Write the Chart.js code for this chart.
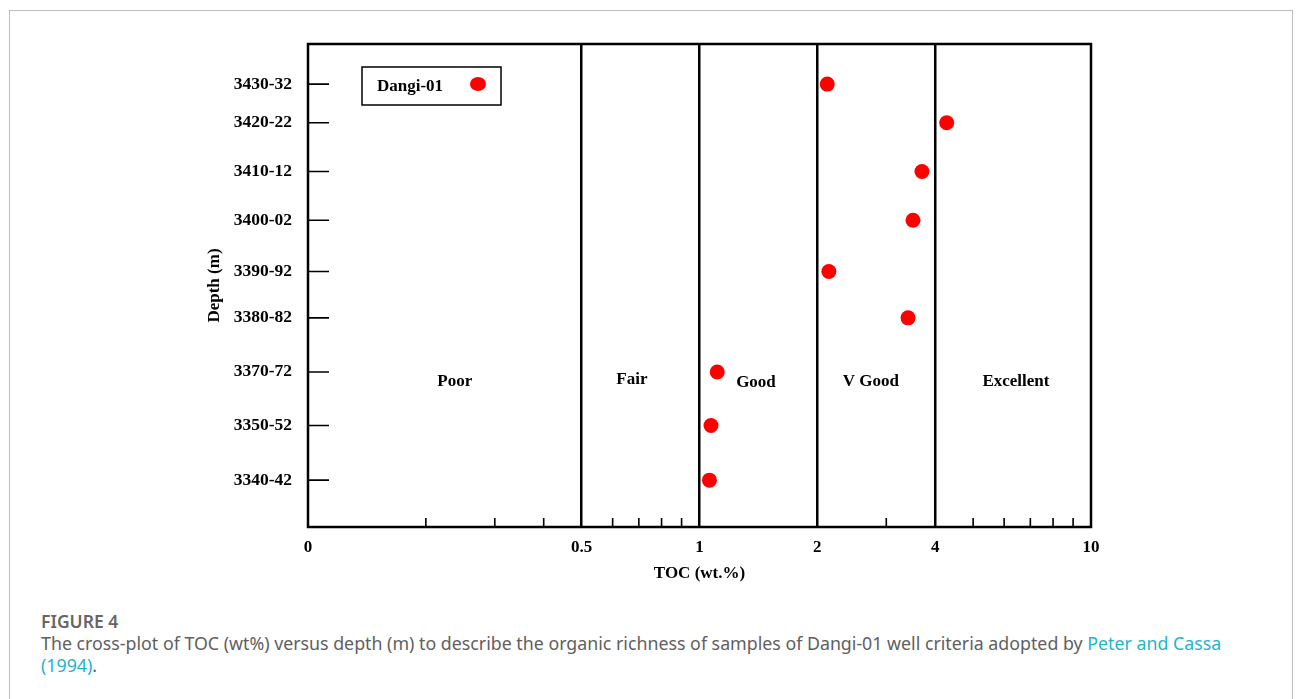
<!DOCTYPE html>
<html>
<head>
<meta charset="utf-8">
<script src="https://cdn.jsdelivr.net/npm/chart.js@4"></script>
<style>
  html, body { margin: 0; padding: 0; background: #fff; }
  body { width: 1296px; height: 699px; position: relative; overflow: hidden; }
  .card { position: absolute; left: 9px; top: 10px; width: 1284px; height: 720px; border: 1px solid #bdbdbd; box-sizing: border-box; }
  #wrap { position: absolute; left: 0; top: 0; width: 1296px; height: 600px; }
  .fig { position: absolute; left: 41px; top: 609px; font-family: "Noto Sans", sans-serif; font-size: 17.5px; font-weight: 600; color: #666; }
  .cap { position: absolute; left: 41px; top: 632px; width: 1215px; font-family: "Noto Sans", sans-serif; font-size: 17.8px; line-height: 22px; color: #606060; }
  .cap a { color: #1fb5c9; text-decoration: none; }
</style>
</head>
<body>
<div class="card"></div>
<div id="wrap"><canvas id="myChart" width="1296" height="600"></canvas></div>
<div class="fig">FIGURE 4</div>
<div class="cap">The cross-plot of TOC (wt%) versus depth (m) to describe the organic richness of samples of Dangi-01 well criteria adopted by <a>Peter and Cassa (1994)</a>.</div>
<script>
// depth intervals, top to bottom, and where each row sits on the (uneven) vertical axis
const depthLabels = ['3430-32', '3420-22', '3410-12', '3400-02', '3390-92', '3380-82', '3370-72', '3350-52', '3340-42'];
const rowPos = [91.7, 83.7, 73.6, 63.5, 52.9, 43.3, 32.1, 21.0, 9.7];
const tocValues = [2.12, 4.28, 3.70, 3.51, 2.14, 3.41, 1.11, 1.07, 1.06];

const xTickVals = [0.1, 0.5, 1, 2, 4, 10];
const xTickLabels = ['0', '0.5', '1', '2', '4', '10'];
const minorTicks = [0.2, 0.3, 0.4, 0.6, 0.7, 0.8, 0.9, 3, 5, 6, 7, 8, 9];
const boundaries = [0.5, 1, 2, 4];

const zoneNames = ['Poor', 'Fair', 'Good', 'V Good', 'Excellent'];
const zoneX = [0.237, 0.672, 1.394, 2.74, 6.43];
const zoneY = [30.2, 30.6, 29.8, 30.2, 30.2];

const serif = '"Liberation Serif", "Times New Roman", serif';

const overlay = {
  id: 'overlay',
  afterDraw(chart) {
    const { ctx, chartArea: a, scales: { x, y } } = chart;
    ctx.save();
    ctx.strokeStyle = '#000';
    ctx.lineWidth = 1.6;
    ctx.beginPath();
    minorTicks.forEach(v => {
      const px = x.getPixelForValue(v);
      ctx.moveTo(px, a.bottom);
      ctx.lineTo(px, a.bottom - 9);
    });
    rowPos.forEach(v => {
      const py = y.getPixelForValue(v);
      ctx.moveTo(a.left, py);
      ctx.lineTo(a.left + 21, py);
    });
    ctx.stroke();

    ctx.lineWidth = 2.5;
    ctx.strokeRect(a.left, a.top, a.right - a.left, a.bottom - a.top);

    ctx.fillStyle = '#000';
    ctx.font = 'bold 17px ' + serif;
    ctx.textAlign = 'center';
    ctx.textBaseline = 'middle';
    zoneNames.forEach((n, i) => {
      ctx.fillText(n, x.getPixelForValue(zoneX[i]), y.getPixelForValue(zoneY[i]));
    });

    // legend box
    const lx = a.left + 54, ly = a.top + 23;
    ctx.lineWidth = 1.5;
    ctx.fillStyle = '#fff';
    ctx.fillRect(lx, ly, 139, 38);
    ctx.strokeRect(lx, ly, 139, 38);
    ctx.fillStyle = '#000';
    ctx.textAlign = 'left';
    ctx.fillText(chart.data.datasets[0].label, lx + 15, ly + 20);
    ctx.fillStyle = '#ff0000';
    ctx.beginPath();
    ctx.ellipse(lx + 116, ly + 17, 8, 7, 0, 0, Math.PI * 2);
    ctx.fill();
    ctx.restore();
  }
};

const ctx = document.getElementById('myChart').getContext('2d');
new Chart(ctx, {
  type: 'scatter',
  data: {
    datasets: [{
      label: 'Dangi-01',
      data: tocValues.map((v, i) => ({ x: v, y: rowPos[i] })),
      backgroundColor: '#ff0000',
      borderColor: '#ff0000',
      borderWidth: 0,
      pointRadius: 7.5,
      pointHoverRadius: 7.5
    }]
  },
  options: {
    responsive: false,
    animation: false,
    layout: {
      padding: { left: 200, right: 205, top: 44, bottom: 12 }
    },
    plugins: {
      legend: { display: false },
      tooltip: { enabled: false }
    },
    scales: {
      x: {
        type: 'logarithmic',
        min: 0.1,
        max: 10,
        afterBuildTicks: (scale) => { scale.ticks = xTickVals.map(v => ({ value: v })); },
        afterFit: (scale) => { scale.height = 61; },
        border: { display: false },
        grid: {
          drawTicks: false,
          lineWidth: 2.5,
          color: (c) => (c.tick && boundaries.includes(c.tick.value)) ? '#000' : 'rgba(0,0,0,0)'
        },
        ticks: {
          autoSkip: false,
          maxRotation: 0,
          padding: 10,
          color: '#000',
          font: { family: serif, size: 17, weight: 'bold' },
          callback: (v, i) => xTickLabels[i]
        },
        title: {
          display: true,
          text: 'TOC (wt.%)',
          color: '#000',
          font: { family: serif, size: 17, weight: 'bold' }
        }
      },
      y: {
        type: 'linear',
        min: 0,
        max: 100,
        afterBuildTicks: (scale) => { scale.ticks = rowPos.map(v => ({ value: v })); },
        afterFit: (scale) => { scale.width = 108; },
        border: { display: false },
        grid: { display: false, drawTicks: false },
        ticks: {
          autoSkip: false,
          padding: 16,
          color: '#000',
          font: { family: serif, size: 17.5, weight: 'bold' },
          callback: (v) => depthLabels[rowPos.indexOf(v)]
        },
        title: {
          display: true,
          text: 'Depth (m)',
          color: '#000',
          font: { family: serif, size: 17, weight: 'bold' }
        }
      }
    }
  },
  plugins: [overlay]
});
</script>
</body>
</html>
